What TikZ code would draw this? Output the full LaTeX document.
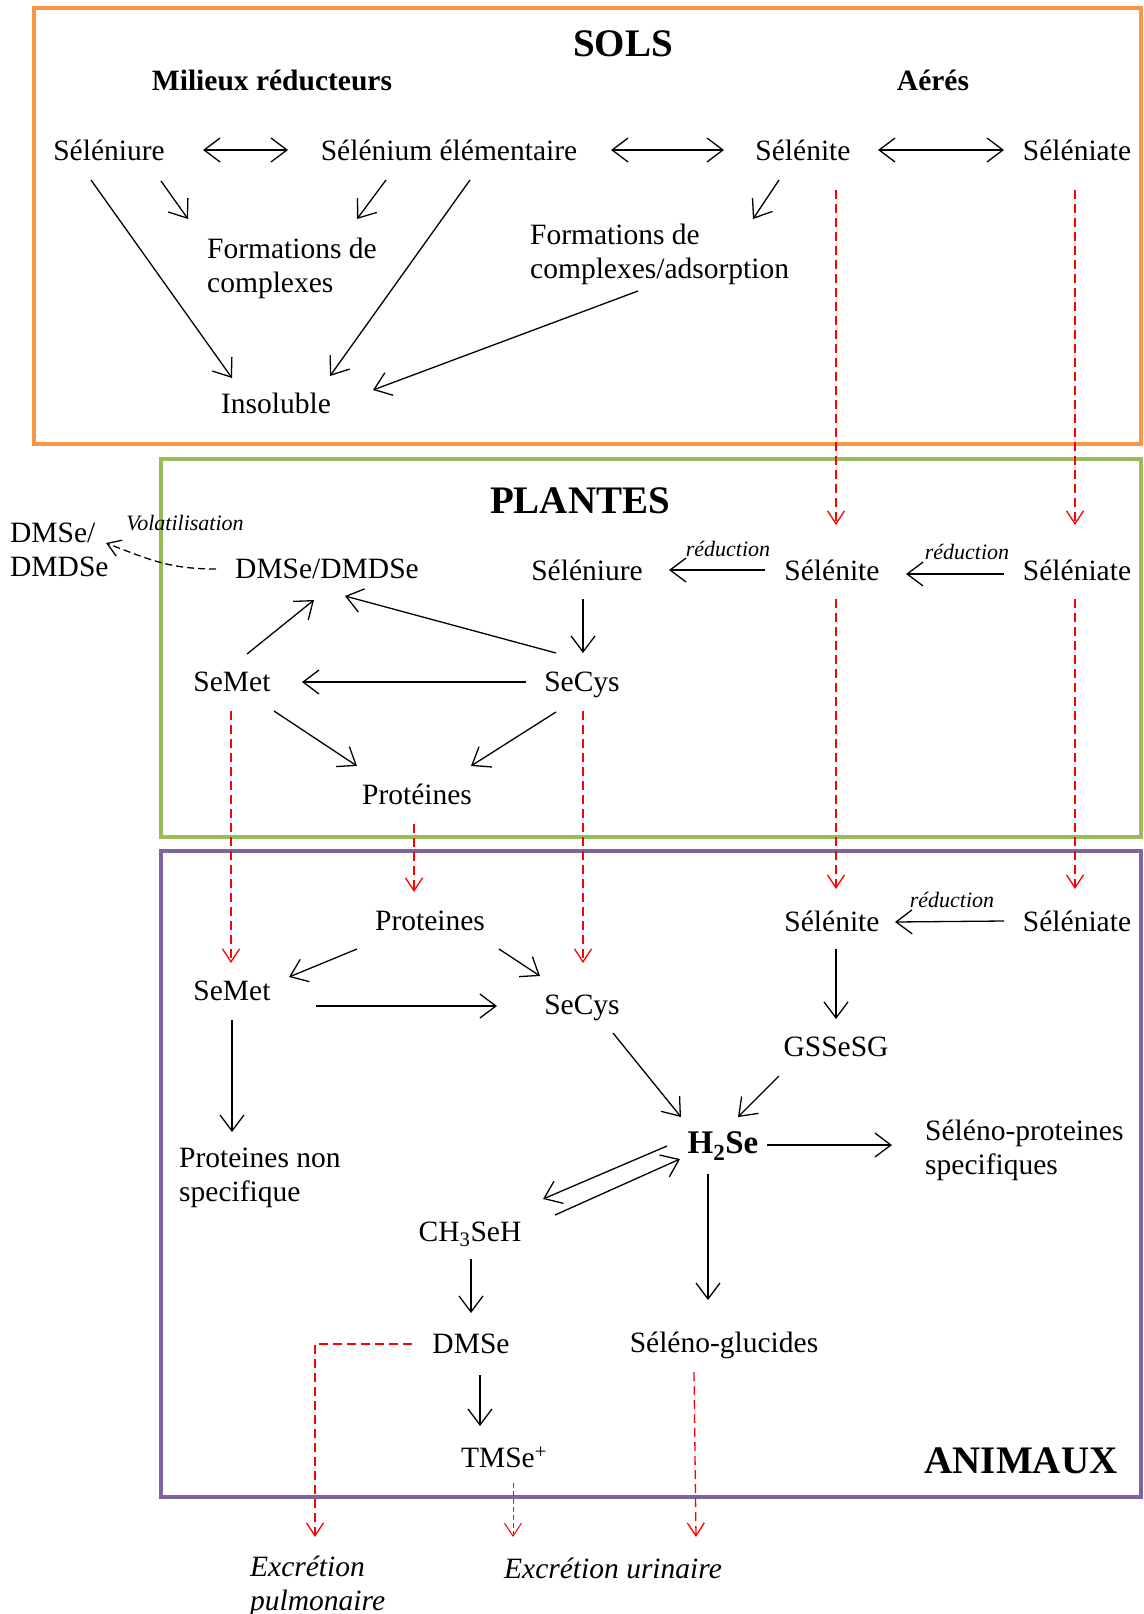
\documentclass[tikz,border=0pt]{standalone}
\usepackage{fontspec}
\setmainfont{Liberation Serif}
\usetikzlibrary{arrows.meta}
\definecolor{solsorange}{HTML}{F79646}
\definecolor{plantvert}{HTML}{9BBB59}
\definecolor{animviolet}{HTML}{8064A2}
\tikzset{
  espece node/.style={
    inner sep=0pt,
    font=\fontsize{29.5}{34}\selectfont,
  },
  titre node/.style={
    inner sep=0pt,
    font=\fontsize{39}{44}\selectfont\bfseries,
  },
  milieu node/.style={
    inner sep=0pt,
    font=\fontsize{29.5}{34}\selectfont\bfseries,
  },
  note node/.style={
    inner sep=0pt,
    font=\fontsize{22}{26}\selectfont\itshape,
  },
  fleche/.style={-{Straight Barb[length=16pt,width=24pt]}, line width=1.3pt},
  fleche double/.style={{Straight Barb[length=16pt,width=24pt]}-{Straight Barb[length=16pt,width=24pt]}, line width=1.3pt},
  transfert/.style={red, line width=1.3pt, dash pattern=on 9pt off 5pt, -{Straight Barb[length=13pt,width=17pt]}},
  zone/.style={line width=4.5pt},
}

\begin{document}
\begin{tikzpicture}[x=1pt, y=-1pt]
      \useasboundingbox (0,0) rectangle (1143,1614);

      % cadres
      \draw[zone, solsorange] (34,8)    rectangle (1141,444);
      \draw[zone, plantvert]  (161,459) rectangle (1141,837);
      \draw[zone, animviolet] (161,851) rectangle (1141,1497);

      % sols
      \node[titre node]  (solsT) at (623,44) {SOLS};
      \node[milieu node] (reduc) at (272,80) {Milieux réducteurs};
      \node[milieu node] (aeres) at (933,80) {Aérés};

      \node[espece node] (sSel)    at (109,150)  {Séléniure};
      \node[espece node] (sElem)   at (449,150)  {Sélénium élémentaire};
      \node[espece node] (sSelite) at (803,150)  {Sélénite};
      \node[espece node] (sSelate) at (1077,150) {Séléniate};
      \node[espece node, align=left, anchor=west] (sForm1) at (207,268) {Formations de\\complexes};
      \node[espece node, align=left, anchor=west] (sForm2) at (530,254) {Formations de\\complexes/adsorption};
      \node[espece node] (sInsol)  at (276,403)  {Insoluble};

      \path[fleche double] ([shift={(94,0)}]sSel.center)     edge ([shift={(-161,0)}]sElem.center);
      \path[fleche double] ([shift={(162,0)}]sElem.center)   edge ([shift={(-79,0)}]sSelite.center);
      \path[fleche double] ([shift={(75,0)}]sSelite.center)  edge ([shift={(-73,0)}]sSelate.center);

      \path[fleche] ([shift={(52,31)}]sSel.center)    edge ([shift={(-19,-49)}]sForm1.west);
      \path[fleche] ([shift={(-63,30)}]sElem.center)  edge ([shift={(150,-49)}]sForm1.west);
      \path[fleche] ([shift={(-18,30)}]sSel.center)   edge ([shift={(-44,-25)}]sInsol.center);
      \path[fleche] ([shift={(21,30)}]sElem.center)   edge ([shift={(54,-27)}]sInsol.center);
      \path[fleche] ([shift={(-24,30)}]sSelite.center) edge ([shift={(223,-35)}]sForm2.west);
      \path[fleche] ([shift={(108,37)}]sForm2.west)   edge ([shift={(97,-13)}]sInsol.center);

      % plantes
      \node[titre node]  (plantT)  at (580,501)  {PLANTES};
      \node[espece node, align=left, anchor=west] (airDMSe) at (10,550) {DMSe/\\DMDSe};
      \node[note node]   (volat)   at (185,523)  {Volatilisation};
      \node[espece node] (pDMSe)   at (327,569)  {DMSe/DMDSe};
      \node[espece node] (pSel)    at (587,570)  {Séléniure};
      \node[espece node] (pSelite) at (832,570)  {Sélénite};
      \node[espece node] (pSelate) at (1077,570) {Séléniate};
      \node[espece node] (pSeMet)  at (232,682)  {SeMet};
      \node[espece node] (pSeCys)  at (582,685)  {SeCys};
      \node[espece node] (pProt)   at (417,794)  {Protéines};
      \node[note node]   (red1)    at (728,549)  {réduction};
      \node[note node]   (red2)    at (967,552)  {réduction};

      \path[fleche] ([shift={(-67,0)}]pSelite.center) edge ([shift={(82,0)}]pSel.center);
      \path[fleche] ([shift={(-73,4)}]pSelate.center) edge ([shift={(74,4)}]pSelite.center);
      \path[fleche] ([shift={(-4,29)}]pSel.center)    edge ([shift={(1,-32)}]pSeCys.center);
      \path[fleche] ([shift={(-56,-3)}]pSeCys.center) edge ([shift={(70,0)}]pSeMet.center);
      \path[fleche] ([shift={(15,-28)}]pSeMet.center) edge ([shift={(-13,31)}]pDMSe.center);
      \path[fleche] ([shift={(-26,-32)}]pSeCys.center) edge ([shift={(18,27)}]pDMSe.center);
      \path[fleche] ([shift={(42,29)}]pSeMet.center)  edge ([shift={(-60,-28)}]pProt.center);
      \path[fleche] ([shift={(-26,27)}]pSeCys.center) edge ([shift={(54,-28)}]pProt.center);

      \draw[-{Straight Barb[length=13pt,width=17pt]}, line width=1.3pt, dash pattern=on 7pt off 4pt]
        ([shift={(-111,0)}]pDMSe.center) .. controls ([shift={(-157,0)}]pDMSe.center)
        and ([shift={(140,10)}]airDMSe.west) .. ([shift={(96,-7)}]airDMSe.west);

      % animaux
      \node[titre node]  (animT)   at (1021,1461) {ANIMAUX};
      \node[espece node] (aProt)   at (430,921)  {Proteines};
      \node[espece node] (aSelite) at (832,921)  {Sélénite};
      \node[espece node] (aSelate) at (1077,921) {Séléniate};
      \node[note node]   (red3)    at (952,900)  {réduction};
      \node[espece node] (aSeMet)  at (232,991)  {SeMet};
      \node[espece node] (aSeCys)  at (582,1008) {SeCys};
      \node[espece node] (aGSS)    at (836,1047) {GSSeSG};
      \node[espece node, font=\fontsize{33}{38}\selectfont\bfseries] (aH2Se) at (723,1146) {H\textsubscript{2}Se};
      \node[espece node, align=left, anchor=west] (aSPS) at (925,1150) {Séléno-proteines\\specifiques};
      \node[espece node, align=left, anchor=west] (aPNS) at (179,1178) {Proteines non\\specifique};
      \node[espece node] (aCH3)    at (470,1234) {CH\textsubscript{3}SeH};
      \node[espece node] (aGluc)   at (724,1345) {Séléno-glucides};
      \node[espece node] (aDMSe)   at (471,1344) {DMSe};
      \node[espece node] (aTMSe)   at (504,1457) {TMSe\textsuperscript{+}};

      \node[espece node, font=\fontsize{29.5}{34}\selectfont\itshape, align=left, anchor=west] (exPulm) at (250,1586) {Excrétion\\pulmonaire};
      \node[espece node, font=\fontsize{29.5}{34}\selectfont\itshape] (exUri) at (613,1568) {Excrétion urinaire};

      \path[fleche] ([shift={(-73,0)}]aSelate.center) edge ([shift={(63,1)}]aSelite.center);
      \path[fleche] ([shift={(-73,28)}]aProt.center)  edge ([shift={(57,-14)}]aSeMet.center);
      \path[fleche] ([shift={(69,28)}]aProt.center)   edge ([shift={(-42,-32)}]aSeCys.center);
      \path[fleche] ([shift={(84,15)}]aSeMet.center)  edge ([shift={(-85,-2)}]aSeCys.center);
      \path[fleche] ([shift={(0,29)}]aSeMet.center)   edge ([shift={(53,-46)}]aPNS.west);
      \path[fleche] ([shift={(4,28)}]aSelite.center)  edge ([shift={(0,-28)}]aGSS.center);
      \path[fleche] ([shift={(31,25)}]aSeCys.center)  edge ([shift={(-42,-29)}]aH2Se.center);
      \path[fleche] ([shift={(-57,29)}]aGSS.center)   edge ([shift={(15,-29)}]aH2Se.center);
      \path[fleche] ([shift={(44,-1)}]aH2Se.center)   edge ([shift={(-33,-5)}]aSPS.west);
      \path[fleche] ([shift={(-56,0)}]aH2Se.center)   edge ([shift={(73,-35)}]aCH3.center);
      \path[fleche] ([shift={(85,-19)}]aCH3.center)   edge ([shift={(-43,13)}]aH2Se.center);
      \path[fleche] ([shift={(-15,28)}]aH2Se.center)  edge ([shift={(-16,-45)}]aGluc.center);
      \path[fleche] ([shift={(1,25)}]aCH3.center)     edge ([shift={(0,-31)}]aDMSe.center);
      \path[fleche] ([shift={(9,31)}]aDMSe.center)    edge ([shift={(-24,-31)}]aTMSe.center);

      % transferts sols -> plantes -> animaux
      \path[transfert] ([shift={(33,40)}]sSelite.center)  edge ([shift={(4,-45)}]pSelite.center);
      \path[transfert] ([shift={(-2,40)}]sSelate.center)  edge ([shift={(-2,-45)}]pSelate.center);
      \path[transfert] ([shift={(4,29)}]pSelite.center)   edge ([shift={(4,-32)}]aSelite.center);
      \path[transfert] ([shift={(-2,29)}]pSelate.center)  edge ([shift={(-2,-32)}]aSelate.center);
      \path[transfert] ([shift={(-1,29)}]pSeMet.center)   edge ([shift={(-1,-28)}]aSeMet.center);
      \path[transfert] ([shift={(-3,30)}]pProt.center)    edge ([shift={(-16,-29)}]aProt.center);
      \path[transfert] ([shift={(1,26)}]pSeCys.center)    edge ([shift={(1,-45)}]aSeCys.center);

      % excretion
      \draw[transfert] ([shift={(-59,0)}]aDMSe.center) -| ([shift={(65,-49)}]exPulm.west);
      \path[transfert, line width=1pt, dash pattern=on 5pt off 3pt] ([shift={(9,26)}]aTMSe.center) edge ([shift={(-100,-31)}]exUri.center);
      \path[transfert] ([shift={(-30,27)}]aGluc.center) edge ([shift={(83,-31)}]exUri.center);
\end{tikzpicture}
\end{document}
